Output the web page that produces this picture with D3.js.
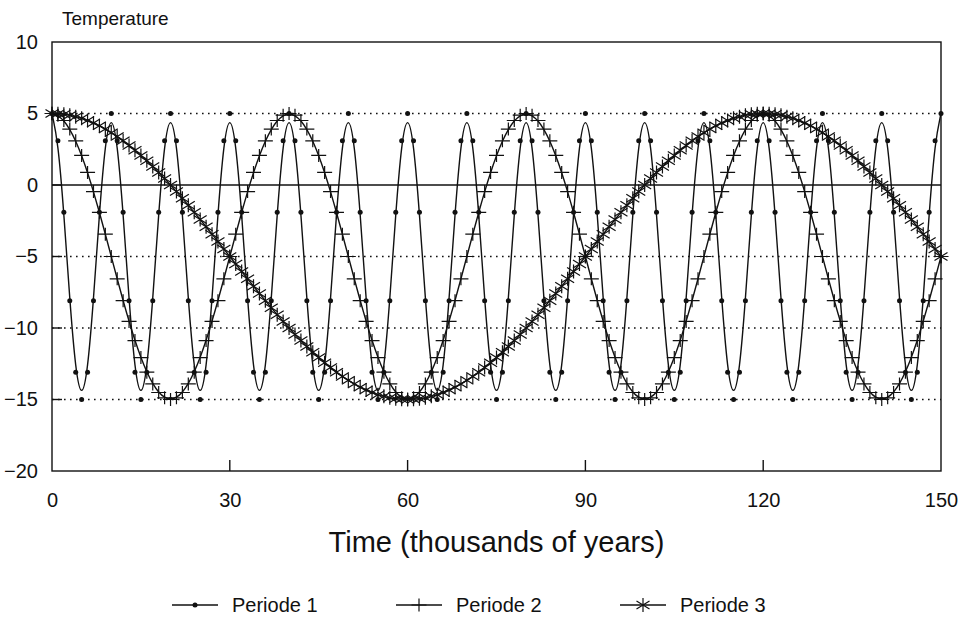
<!DOCTYPE html>
<html>
<head>
<meta charset="utf-8">
<script src="https://cdn.jsdelivr.net/npm/d3@7"></script>
<style>
  body { margin: 0; background: #fff; }
  text { font-family: "Liberation Sans", Arial, Helvetica, sans-serif; fill: #111; }
</style>
</head>
<body>
<svg id="chart" width="969" height="630"></svg>
<script>
// Sample times (thousands of years), one sample per thousand years
const years = d3.range(0, 151);

// Periode 1 : 10 000-year cycle
const periode1 = [
  5, 3.09, -1.91, -8.09, -13.09, -15, -13.09, -8.09, -1.91, 3.09,
  5, 3.09, -1.91, -8.09, -13.09, -15, -13.09, -8.09, -1.91, 3.09,
  5, 3.09, -1.91, -8.09, -13.09, -15, -13.09, -8.09, -1.91, 3.09,
  5, 3.09, -1.91, -8.09, -13.09, -15, -13.09, -8.09, -1.91, 3.09,
  5, 3.09, -1.91, -8.09, -13.09, -15, -13.09, -8.09, -1.91, 3.09,
  5, 3.09, -1.91, -8.09, -13.09, -15, -13.09, -8.09, -1.91, 3.09,
  5, 3.09, -1.91, -8.09, -13.09, -15, -13.09, -8.09, -1.91, 3.09,
  5, 3.09, -1.91, -8.09, -13.09, -15, -13.09, -8.09, -1.91, 3.09,
  5, 3.09, -1.91, -8.09, -13.09, -15, -13.09, -8.09, -1.91, 3.09,
  5, 3.09, -1.91, -8.09, -13.09, -15, -13.09, -8.09, -1.91, 3.09,
  5, 3.09, -1.91, -8.09, -13.09, -15, -13.09, -8.09, -1.91, 3.09,
  5, 3.09, -1.91, -8.09, -13.09, -15, -13.09, -8.09, -1.91, 3.09,
  5, 3.09, -1.91, -8.09, -13.09, -15, -13.09, -8.09, -1.91, 3.09,
  5, 3.09, -1.91, -8.09, -13.09, -15, -13.09, -8.09, -1.91, 3.09,
  5, 3.09, -1.91, -8.09, -13.09, -15, -13.09, -8.09, -1.91, 3.09,
  5
];

// Periode 2 : 40 000-year cycle
const periode2 = [
  5, 4.88, 4.51, 3.91, 3.09, 2.07, 0.88, -0.46, -1.91, -3.44,
  -5, -6.56, -8.09, -9.54, -10.88, -12.07, -13.09, -13.91, -14.51, -14.88,
  -15, -14.88, -14.51, -13.91, -13.09, -12.07, -10.88, -9.54, -8.09, -6.56,
  -5, -3.44, -1.91, -0.46, 0.88, 2.07, 3.09, 3.91, 4.51, 4.88,
  5, 4.88, 4.51, 3.91, 3.09, 2.07, 0.88, -0.46, -1.91, -3.44,
  -5, -6.56, -8.09, -9.54, -10.88, -12.07, -13.09, -13.91, -14.51, -14.88,
  -15, -14.88, -14.51, -13.91, -13.09, -12.07, -10.88, -9.54, -8.09, -6.56,
  -5, -3.44, -1.91, -0.46, 0.88, 2.07, 3.09, 3.91, 4.51, 4.88,
  5, 4.88, 4.51, 3.91, 3.09, 2.07, 0.88, -0.46, -1.91, -3.44,
  -5, -6.56, -8.09, -9.54, -10.88, -12.07, -13.09, -13.91, -14.51, -14.88,
  -15, -14.88, -14.51, -13.91, -13.09, -12.07, -10.88, -9.54, -8.09, -6.56,
  -5, -3.44, -1.91, -0.46, 0.88, 2.07, 3.09, 3.91, 4.51, 4.88,
  5, 4.88, 4.51, 3.91, 3.09, 2.07, 0.88, -0.46, -1.91, -3.44,
  -5, -6.56, -8.09, -9.54, -10.88, -12.07, -13.09, -13.91, -14.51, -14.88,
  -15, -14.88, -14.51, -13.91, -13.09, -12.07, -10.88, -9.54, -8.09, -6.56,
  -5
];

// Periode 3 : 120 000-year cycle
const periode3 = [
  5, 4.99, 4.95, 4.88, 4.78, 4.66, 4.51, 4.34, 4.14, 3.91,
  3.66, 3.39, 3.09, 2.77, 2.43, 2.07, 1.69, 1.29, 0.88, 0.45,
  0, -0.46, -0.93, -1.42, -1.91, -2.41, -2.92, -3.44, -3.95, -4.48,
  -5, -5.52, -6.05, -6.56, -7.08, -7.59, -8.09, -8.58, -9.07, -9.54,
  -10, -10.45, -10.88, -11.29, -11.69, -12.07, -12.43, -12.77, -13.09, -13.39,
  -13.66, -13.91, -14.14, -14.34, -14.51, -14.66, -14.78, -14.88, -14.95, -14.99,
  -15, -14.99, -14.95, -14.88, -14.78, -14.66, -14.51, -14.34, -14.14, -13.91,
  -13.66, -13.39, -13.09, -12.77, -12.43, -12.07, -11.69, -11.29, -10.88, -10.45,
  -10, -9.54, -9.07, -8.58, -8.09, -7.59, -7.08, -6.56, -6.05, -5.52,
  -5, -4.48, -3.95, -3.44, -2.92, -2.41, -1.91, -1.42, -0.93, -0.46,
  0, 0.45, 0.88, 1.29, 1.69, 2.07, 2.43, 2.77, 3.09, 3.39,
  3.66, 3.91, 4.14, 4.34, 4.51, 4.66, 4.78, 4.88, 4.95, 4.99,
  5, 4.99, 4.95, 4.88, 4.78, 4.66, 4.51, 4.34, 4.14, 3.91,
  3.66, 3.39, 3.09, 2.77, 2.43, 2.07, 1.69, 1.29, 0.88, 0.45,
  0, -0.46, -0.93, -1.42, -1.91, -2.41, -2.92, -3.44, -3.95, -4.48,
  -5
];

const xTicks = [0, 30, 60, 90, 120, 150];
const yTicks = [10, 5, 0, -5, -10, -15, -20];
const dottedLevels = [5, -5, -10, -15];
const seriesNames = ["Periode 1", "Periode 2", "Periode 3"];

const svg = d3.select("#chart");
const plotLeft = 52, plotRight = 941, plotTop = 42, plotBottom = 471;

const x = d3.scaleLinear().domain([0, 150]).range([plotLeft, plotRight]);
const y = d3.scaleLinear().domain([-20, 10]).range([plotBottom, plotTop]);

// dotted reference levels
svg.append("g").selectAll("line").data(dottedLevels).join("line")
  .attr("x1", x(0)).attr("x2", x(150))
  .attr("y1", d => y(d)).attr("y2", d => y(d))
  .attr("stroke", "#111").attr("stroke-width", 1.6)
  .attr("stroke-dasharray", "1.6,4.4");

// solid zero line
svg.append("line")
  .attr("x1", x(0)).attr("x2", x(150))
  .attr("y1", y(0)).attr("y2", y(0))
  .attr("stroke", "#111").attr("stroke-width", 1.4);

// frame
svg.append("rect")
  .attr("x", x(0)).attr("y", y(10))
  .attr("width", x(150) - x(0)).attr("height", y(-20) - y(10))
  .attr("fill", "none").attr("stroke", "#111").attr("stroke-width", 1.4);

// inner tick marks
svg.append("g").selectAll("line").data(yTicks.slice(1, -1)).join("line")
  .attr("x1", x(0)).attr("x2", x(0) + 10)
  .attr("y1", d => y(d)).attr("y2", d => y(d))
  .attr("stroke", "#111").attr("stroke-width", 1.4);
svg.append("g").selectAll("line").data(xTicks.slice(1, -1)).join("line")
  .attr("x1", d => x(d)).attr("x2", d => x(d))
  .attr("y1", y(-20)).attr("y2", y(-20) - 11)
  .attr("stroke", "#111").attr("stroke-width", 1.4);

// axis labels
const yAxis = svg.append("g").attr("transform", `translate(${x(0)},0)`)
  .call(d3.axisLeft(y).tickValues(yTicks).tickSize(0).tickPadding(14).tickFormat(d3.format("d")));
const xAxis = svg.append("g").attr("transform", `translate(0,${y(-20)})`)
  .call(d3.axisBottom(x).tickValues(xTicks).tickSize(0).tickPadding(22).tickFormat(d3.format("d")));
[yAxis, xAxis].forEach(g => {
  g.select(".domain").remove();
  g.selectAll("text").attr("font-size", 20).attr("fill", "#111")
    .style("font-family", "'Liberation Sans', Arial, sans-serif");
});

svg.append("text").attr("x", 62).attr("y", 25).attr("font-size", 19).text("Temperature");
svg.append("text").attr("x", (x(0) + x(150)) / 2).attr("y", 552)
  .attr("text-anchor", "middle").attr("font-size", 29).text("Time (thousands of years)");

// marker shapes
const plusPath = "M-7.5,0H7.5M0,-6.5V6.5";
const starPath = "M0,-7V7M-6.5,-4L6.5,4M-6.5,4L6.5,-4";

const series = [
  { name: seriesNames[0], values: periode1, marker: "dot" },
  { name: seriesNames[1], values: periode2, marker: "plus" },
  { name: seriesNames[2], values: periode3, marker: "star" }
];

const line = d3.line().curve(d3.curveBasis)
  .x((d, i) => x(years[i])).y(d => y(d));

series.forEach(s => {
  svg.append("path").datum(s.values)
    .attr("d", line).attr("fill", "none")
    .attr("stroke", "#111").attr("stroke-width", 1.4);
  const pts = svg.append("g").selectAll("g").data(s.values).join("g")
    .attr("transform", (d, i) => `translate(${x(years[i])},${y(d)})`);
  if (s.marker === "dot") {
    pts.append("circle").attr("r", 2.5).attr("fill", "#111");
  } else {
    pts.append("path").attr("d", s.marker === "plus" ? plusPath : starPath)
      .attr("fill", "none").attr("stroke", "#111").attr("stroke-width", 1.2);
  }
});

// legend
const legendPos = [172, 396, 620];
const lg = svg.append("g").selectAll("g").data(series).join("g")
  .attr("transform", (d, i) => `translate(${legendPos[i]},612)`);
lg.append("line").attr("x1", 0).attr("x2", 46).attr("y1", -7).attr("y2", -7)
  .attr("stroke", "#111").attr("stroke-width", 1.4);
lg.each(function (d) {
  const g = d3.select(this);
  if (d.marker === "dot") {
    g.append("circle").attr("cx", 23).attr("cy", -7).attr("r", 2.5).attr("fill", "#111");
  } else {
    g.append("path").attr("transform", "translate(23,-7)")
      .attr("d", d.marker === "plus" ? plusPath : starPath)
      .attr("fill", "none").attr("stroke", "#111").attr("stroke-width", 1.2);
  }
});
lg.append("text").attr("x", 60).attr("y", 0).attr("font-size", 20).text(d => d.name);
</script>
</body>
</html>
